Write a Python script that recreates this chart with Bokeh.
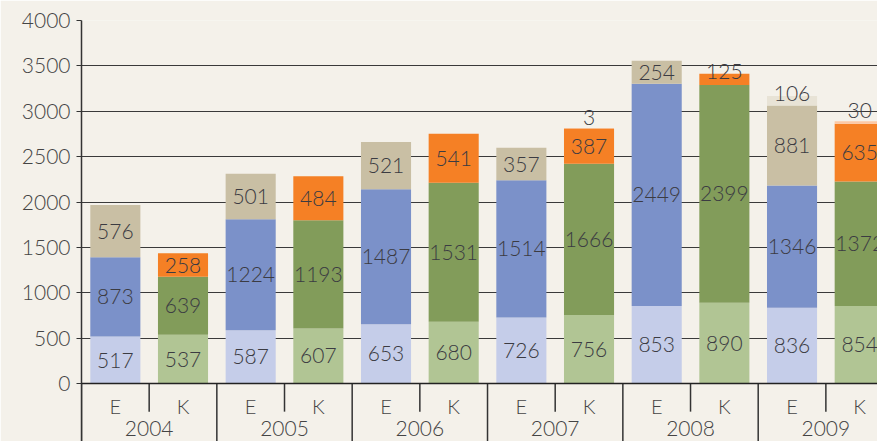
import numpy as np
from bokeh.plotting import figure
from bokeh.models import ColumnDataSource, Range1d, FixedTicker, Span
from bokeh.core.properties import value
from bokeh.embed import file_html
from bokeh.resources import INLINE

years = ["2004", "2005", "2006", "2007", "2008", "2009"]
kinds = ["E", "K"]

# E series (bottom -> top)
e_base = [517, 587, 653, 726, 853, 836]
e_mid = [873, 1224, 1487, 1514, 2449, 1346]
e_top = [576, 501, 521, 357, 254, 881]
e_extra = [0, 0, 0, 0, 0, 106]
# K series (bottom -> top)
k_base = [537, 607, 680, 756, 890, 854]
k_mid = [639, 1193, 1531, 1666, 2399, 1372]
k_top = [258, 484, 541, 387, 125, 635]
k_extra = [0, 0, 0, 3, 0, 30]

y_ticks = [0, 500, 1000, 1500, 2000, 2500, 3000, 3500, 4000]

e_colors = ["#c5cde9", "#7b91c9", "#c9bfa4", "#e8e3d6"]
k_colors = ["#b1c594", "#829c5a", "#f58025", "#fdc8a5"]

FONT = "'Lato Light', Lato"
TXT = "#3b3b42"
BG = "#f4f1ea"

p = figure(width=877, height=441, output_backend="svg", toolbar_location=None,
           x_range=Range1d(0, 11.763), y_range=Range1d(-639, 4000),
           min_border_left=81, min_border_right=0, min_border_top=20, min_border_bottom=0)
p.background_fill_color = BG
p.border_fill_color = BG
p.outline_line_color = None
p.xaxis.visible = False
p.xgrid.visible = False

p.yaxis.ticker = FixedTicker(ticks=y_ticks)
p.yaxis.axis_line_color = "#333333"
p.yaxis.axis_line_width = 1.5
p.yaxis.major_tick_line_color = "#333333"
p.yaxis.major_tick_out = 5
p.yaxis.major_tick_in = 0
p.yaxis.minor_tick_line_color = None
p.yaxis.major_label_standoff = 6
p.yaxis.major_label_text_font = FONT
p.yaxis.major_label_text_font_size = "21px"
p.yaxis.major_label_text_color = "#444444"

p.ygrid.ticker = FixedTicker(ticks=y_ticks[1:])
p.ygrid.grid_line_color = "#3a3a3a"
p.ygrid.grid_line_width = 1

series = {"E": [e_base, e_mid, e_top, e_extra], "K": [k_base, k_mid, k_top, k_extra]}
colors = {"E": e_colors, "K": k_colors}

lab_x, lab_y, lab_t, lab_off = [], [], [], []
for ki, kind in enumerate(kinds):
    layers = np.array(series[kind], dtype=float)
    tops = np.cumsum(layers, axis=0)
    bottoms = tops - layers
    xs = np.arange(len(years)) * 2 + ki + 0.5
    for li in range(layers.shape[0]):
        mask = layers[li] > 0
        src = ColumnDataSource(dict(x=xs[mask], bottom=bottoms[li][mask], top=tops[li][mask]))
        p.vbar(x="x", width=0.74, bottom="bottom", top="top", source=src,
               fill_color=colors[kind][li], line_color=None)
        for j in np.where(mask)[0]:
            v = layers[li][j]
            lab_x.append(xs[j])
            lab_t.append(str(int(v)))
            if v < 50:
                lab_y.append(tops[li][j]); lab_off.append(-11)
            elif v < 150:
                lab_y.append(tops[li][j]); lab_off.append(-2)
            else:
                lab_y.append((bottoms[li][j] + tops[li][j]) / 2); lab_off.append(0)

lsrc = ColumnDataSource(dict(x=lab_x, y=lab_y, t=lab_t, off=lab_off))
p.text(x="x", y="y", text="t", y_offset="off", source=lsrc, text_align="center",
       text_baseline="middle", text_font=value(FONT), text_font_size="21px", text_color=TXT)

# zero line
p.add_layout(Span(location=0, dimension="width", line_color="#222222", line_width=1.5))

# category separators
n = len(years)
major_x = [2 * g for g in range(n)]
minor_x = [2 * g + 1 for g in range(n)]
p.segment(x0=major_x, y0=[0] * n, x1=major_x, y1=[-639] * n, line_color="#333333", line_width=1.5)
p.segment(x0=minor_x, y0=[0] * n, x1=minor_x, y1=[-310] * n, line_color="#333333", line_width=1.5)

# category labels
sub_x = [2 * g + k + 0.5 for g in range(n) for k in range(2)]
sub_t = [k for g in range(n) for k in kinds]
p.text(x=sub_x, y=[-253] * len(sub_x), text=sub_t, text_align="center", text_baseline="middle",
       text_font=value(FONT), text_font_size="20px", text_color="#444444")
yr_x = [2 * g + 1 for g in range(n)]
p.text(x=yr_x, y=[-500] * n, text=years, text_align="center", text_baseline="middle",
       text_font=value(FONT), text_font_size="21px", text_color="#444444")

open("out.html", "w").write(file_html(p, INLINE))
